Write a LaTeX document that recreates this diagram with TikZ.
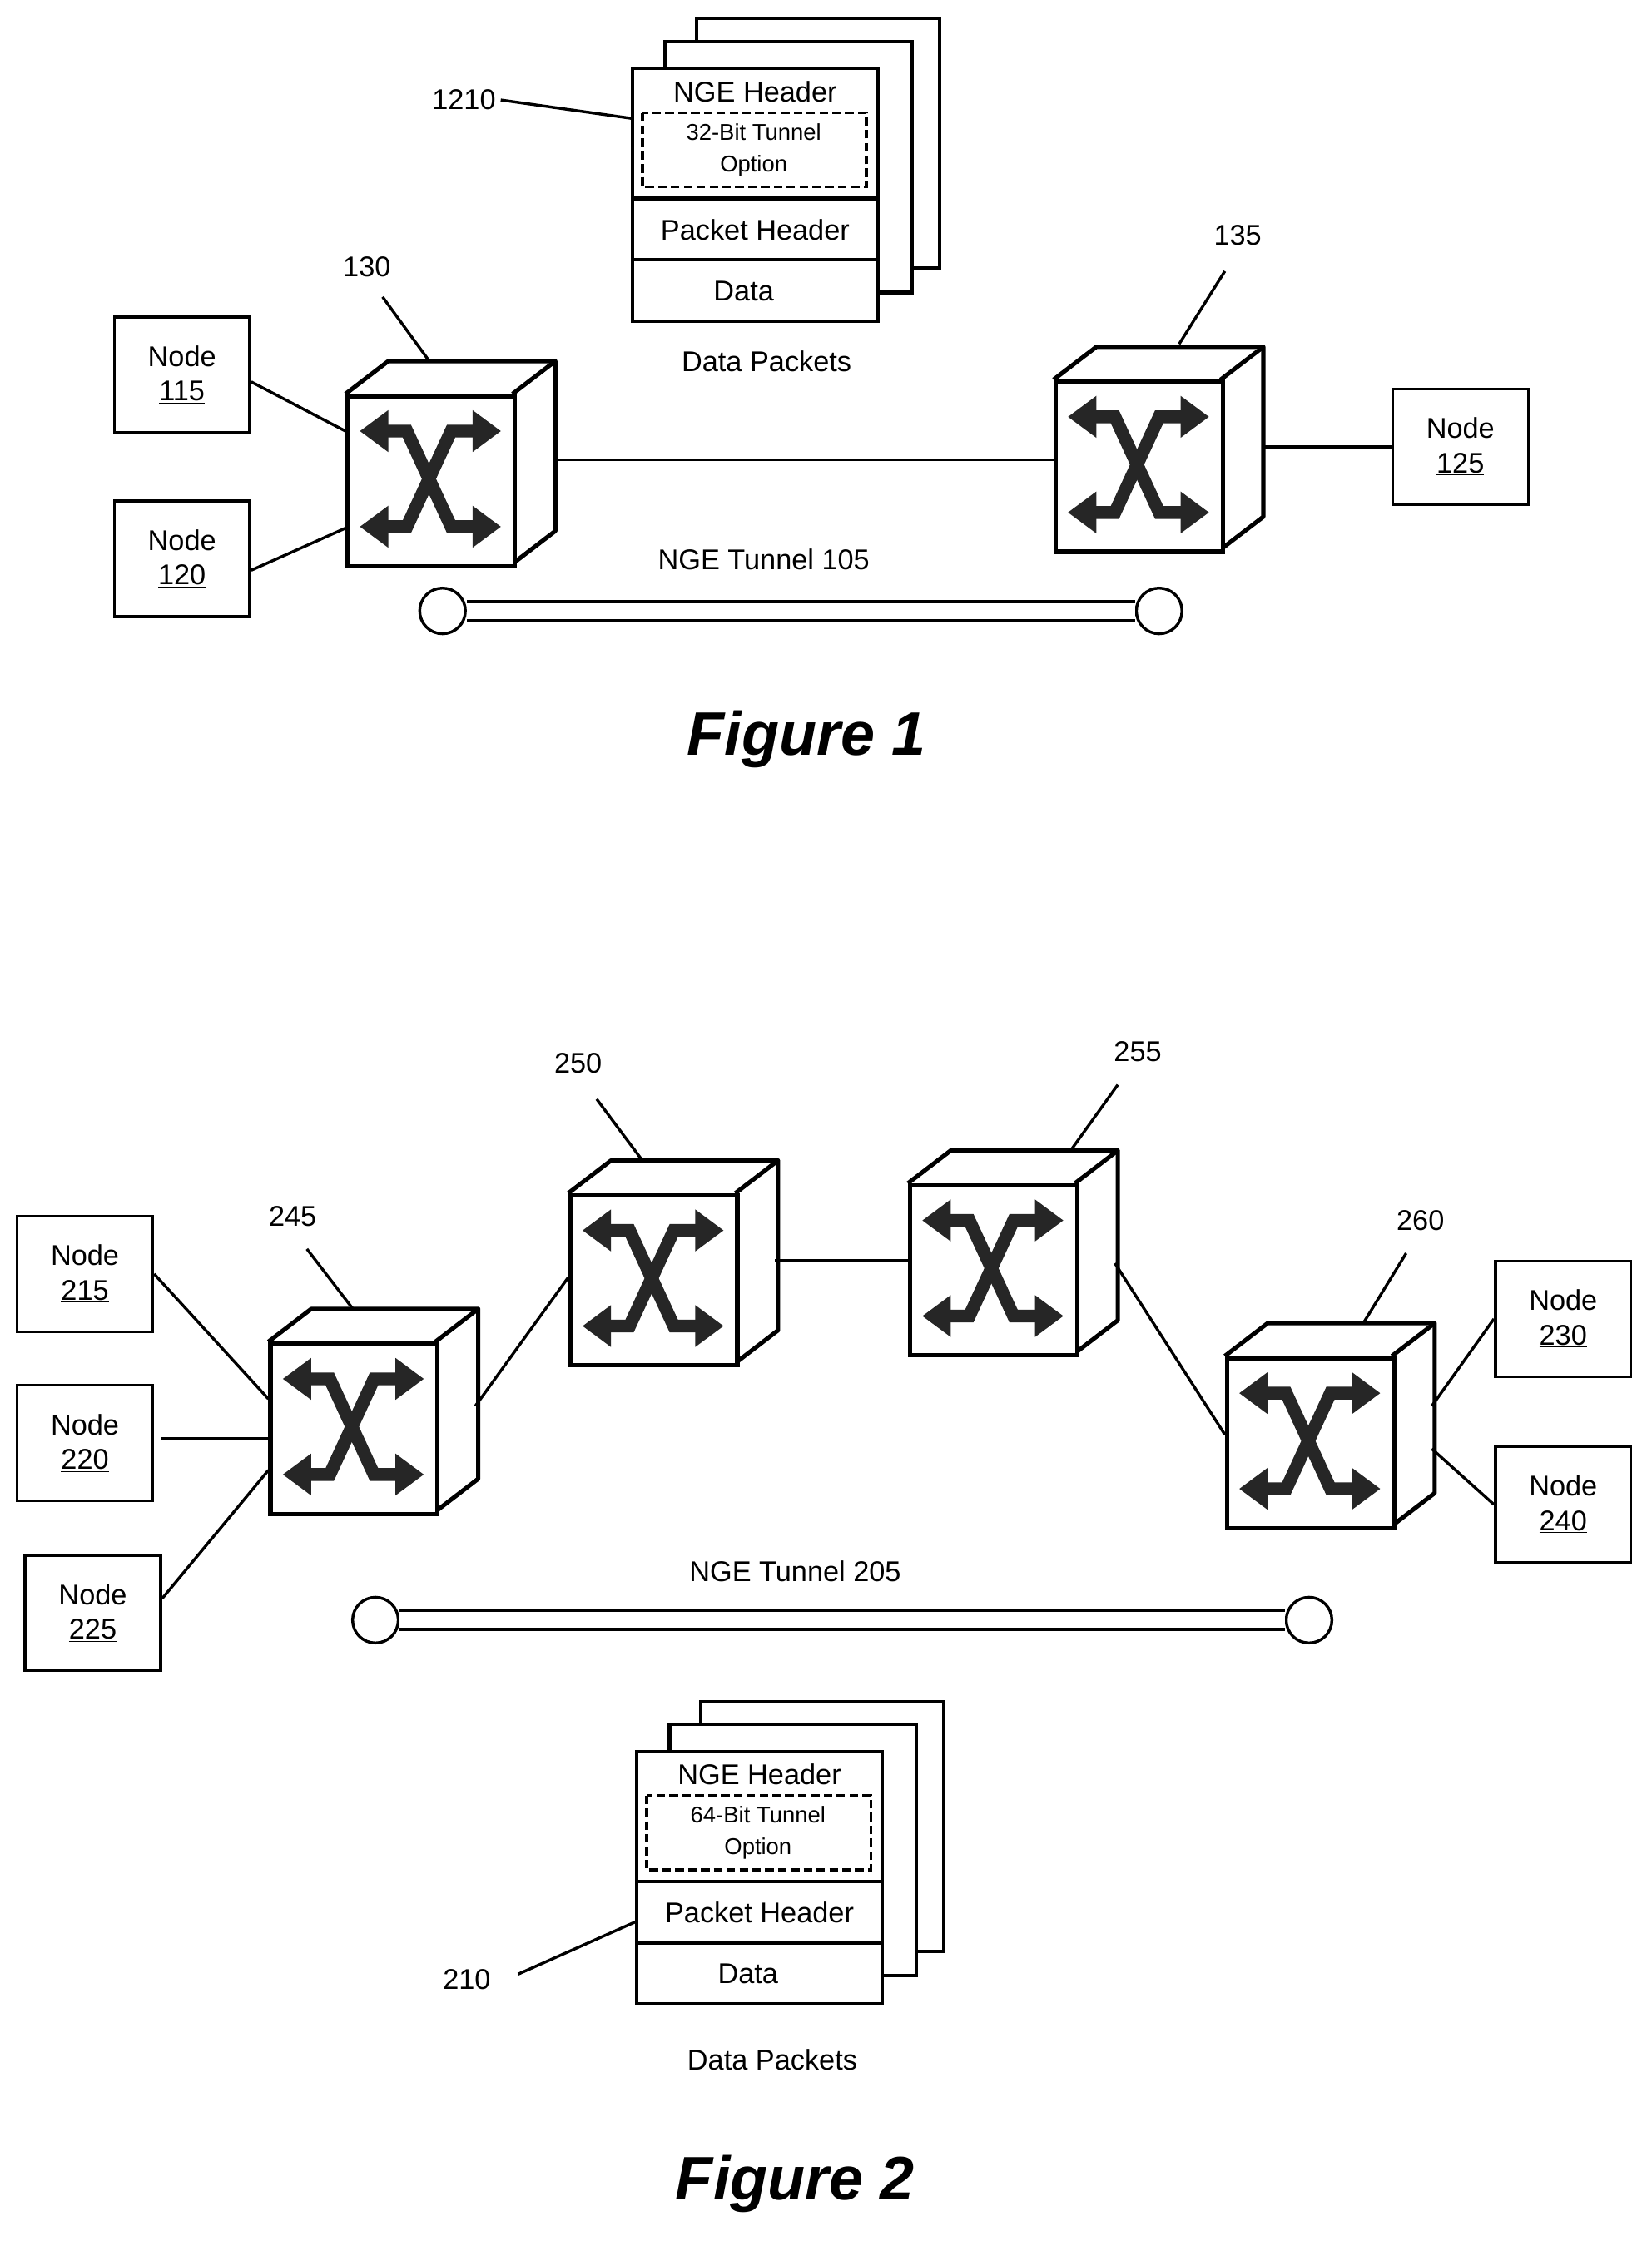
\documentclass[tikz,border=0pt]{standalone}
\usepackage{fontspec}
\setmainfont{Liberation Sans}
\usetikzlibrary{arrows.meta,calc}

\tikzset{
  node box/.style={draw,line width=2pt,minimum width=95pt,minimum height=81pt,align=center,font=\fontsize{20}{24}\selectfont},
  sw front/.style={draw,line width=3pt,fill=white,minimum width=117pt,minimum height=119pt,inner sep=0pt},
  sw arrow/.style={line width=9pt,color=black!85,{Triangle[width=28pt,length=20pt]}-{Triangle[width=28pt,length=20pt]}},
  link/.style={line width=2pt},
  lbl/.style={font=\fontsize{20}{24}\selectfont},
  pkt/.style={draw,line width=2.5pt,fill=white},
  tunnel end/.style={draw,line width=2pt,fill=white,circle,minimum size=32pt,inner sep=0pt},
  fig/.style={font=\fontsize{43}{50}\selectfont\bfseries\itshape},
}

% switch: name, x of front left, y of front top
\newcommand{\netswitch}[3]{
  \fill[white] (#2,#3) -- (#2+30,#3-23) -- (#2+147,#3-23) -- (#2+147,#3+96) -- (#2+117,#3+119) -- (#2,#3+119) -- cycle;
  \draw[line width=3pt,line join=round] (#2,#3) -- (#2+30,#3-23) -- (#2+147,#3-23) -- (#2+147,#3+96) -- (#2+117,#3+119);
  \draw[line width=3pt] (#2+117,#3) -- (#2+147,#3-23);
  \node[sw front,anchor=north west] (#1) at (#2,#3) {};
  \draw[sw arrow] (#2+10,#3+26) -- (#2+43,#3+26) -- (#2+74,#3+93) -- (#2+109,#3+93);
  \draw[sw arrow] (#2+10,#3+93) -- (#2+43,#3+93) -- (#2+74,#3+26) -- (#2+109,#3+26);
}

% packet stack: name, x of front left, y of front top, bit text
\newcommand{\pktstack}[4]{
  \draw[pkt] (#2+45,#3-35) rectangle (#2+215,#3+140);
  \draw[pkt] (#2+23,#3-19) rectangle (#2+196,#3+157);
  \draw[pkt] (#2,#3) rectangle (#2+172,#3+177);
  \draw[line width=2.5pt] (#2,#3+91) -- (#2+172,#3+91);
  \draw[line width=2.5pt] (#2,#3+134) -- (#2+172,#3+134);
  \node[lbl] at (#2+86,#3+16) {NGE Header};
  \draw[line width=2pt,dash pattern=on 6pt off 3pt] (#2+7,#3+31) rectangle (#2+164,#3+83);
  \node[align=center,font=\fontsize{16}{22}\selectfont] at (#2+85,#3+57) {#4-Bit Tunnel\\Option};
  \node[lbl] at (#2+86,#3+113) {Packet Header};
  \node[lbl] (#1) at (#2+78,#3+156) {Data};
}

\begin{document}
\begin{tikzpicture}[x=1pt,y=-1pt]
\useasboundingbox (0,0) rectangle (1157,1570);

% ---- Figure 1 ----
\pktstack{pk1}{443}{48}{32}
\node[lbl] (l1210) at (325,70) {1210};
\draw[link] (l1210.east) -- (443,83);
\node[lbl] at (537,253) {Data Packets};

\netswitch{sw130}{242}{276}
\netswitch{sw135}{738}{266}
\node[lbl] (l130) at (257,187) {130};
\draw[link] (268,208) -- (300,252);
\node[lbl] (l135) at (867,165) {135};
\draw[link] (858,190) -- (826,241);

\node[node box] (n115) at (127.5,262.5) {Node\\\underline{115}};
\node[node box] (n120) at (127.5,391.5) {Node\\\underline{120}};
\node[node box] (n125) at (1023,313) {Node\\\underline{125}};

\draw[link] (n115.east) ++(0,5) -- (242,302);
\draw[link] (n120.east) ++(0,8) -- (242,370);
\draw[link] (389,322) -- (sw135.west |- 0,322);
\draw[link] (885,313) -- (n125.west);

\node[lbl] at (535,392) {NGE Tunnel 105};
\node[tunnel end] (t1a) at (310,428) {};
\node[tunnel end] (t1b) at (812,428) {};
\draw[line width=2pt,double=white,double distance=11pt] (t1a.east) -- (t1b.west);
\node[fig] at (565,518) {Figure 1};

% ---- Figure 2 ----
\netswitch{sw245}{188}{940}
\netswitch{sw250}{398}{836}
\netswitch{sw255}{636}{829}
\netswitch{sw260}{858}{950}
\node[lbl] at (205,852) {245};
\draw[link] (215,875) -- (248,918);
\node[lbl] at (405,745) {250};
\draw[link] (418,770) -- (450,813);
\node[lbl] at (797,737) {255};
\draw[link] (783,760) -- (750,806);
\node[lbl] at (995,855) {260};
\draw[link] (985,878) -- (955,927);

\node[node box] (n215) at (59.5,892.5) {Node\\\underline{215}};
\node[node box] (n220) at (59.5,1011) {Node\\\underline{220}};
\node[node box] (n225) at (65,1130) {Node\\\underline{225}};
\node[node box] (n230) at (1095,924) {Node\\\underline{230}};
\node[node box] (n240) at (1095,1054) {Node\\\underline{240}};

\draw[link] (n215.east) -- (188,980);
\draw[link] (n220.east) ++(5,-3) -- (188,1008);
\draw[link] (n225.east) ++(0,-10) -- (188,1030);
\draw[link] (333,985) -- (398,895);
\draw[link] (543,883) -- (636,883);
\draw[link] (781,885) -- (858,1005);
\draw[link] (1003,985) -- (n230.west);
\draw[link] (1003,1015) -- (n240.west);

\node[lbl] at (557,1101) {NGE Tunnel 205};
\node[tunnel end] (t2a) at (263,1135) {};
\node[tunnel end] (t2b) at (917,1135) {};
\draw[line width=2pt,double=white,double distance=11pt] (t2a.east) -- (t2b.west);

\pktstack{pk2}{446}{1227}{64}
\node[lbl] (l210) at (327,1387) {210};
\draw[link] (363,1383) -- (446,1346);
\node[lbl] at (541,1443) {Data Packets};
\node[fig] at (557,1530) {Figure 2};
\end{tikzpicture}
\end{document}
